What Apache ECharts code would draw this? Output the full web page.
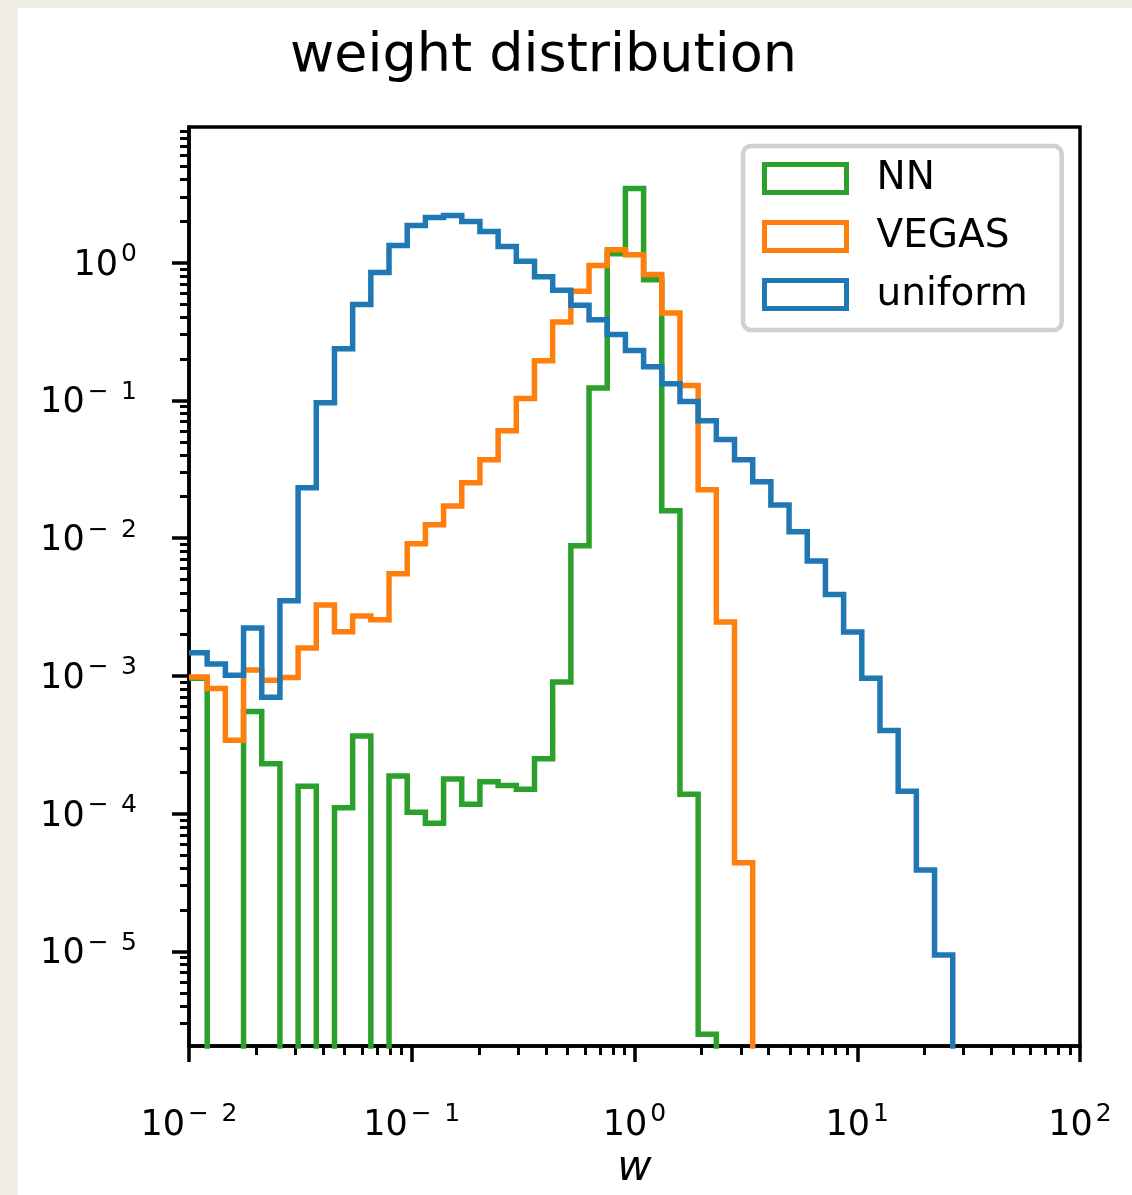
<!DOCTYPE html>
<html lang="en">
<head>
  <meta charset="UTF-8">
  <title>weight distribution</title>
  <style>
    html, body { margin: 0; padding: 0; background: #f1eee7; }
    #main { width: 1132px; height: 1195px; }
  </style>
</head>
<body>
  <div id="main"></div>
  <script src="https://cdn.jsdelivr.net/npm/echarts@6/dist/echarts.min.js"></script>
  <script>
    var myChart = echarts.init(document.getElementById("main"));

    // 49 log-spaced bins between 1e-2 and 1e2, density per bin (0 = empty bin)
    var binLow = 0.01, binHigh = 100, binCount = 49;
    var nnValues = [
      9.6e-4, 0, 0, 5.5e-4, 2.3e-4, 0, 1.58e-4, 0, 1.1e-4, 3.65e-4,
      0, 1.87e-4, 1.02e-4, 8.5e-5, 1.78e-4, 1.17e-4, 1.7e-4, 1.6e-4, 1.5e-4, 2.5e-4,
      9.0e-4, 8.8e-3, 0.123, 1.16, 3.45, 0.75, 0.0158, 1.38e-4, 2.5e-6, 0,
      0, 0, 0, 0, 0, 0, 0, 0, 0, 0,
      0, 0, 0, 0, 0, 0, 0, 0, 0
    ];
    var vegasValues = [
      9.8e-4, 8.1e-4, 3.4e-4, 1.1e-3, 9.3e-4, 9.7e-4, 1.59e-3, 3.27e-3, 2.09e-3, 2.72e-3,
      2.55e-3, 5.5e-3, 9.1e-3, 0.0125, 0.0171, 0.0252, 0.037, 0.060, 0.103, 0.194,
      0.37, 0.62, 0.95, 1.24, 1.14, 0.82, 0.43, 0.128, 0.0224, 2.46e-3,
      4.4e-5, 0, 0, 0, 0, 0, 0, 0, 0, 0,
      0, 0, 0, 0, 0, 0, 0, 0, 0
    ];
    var uniformValues = [
      1.47e-3, 1.22e-3, 1.01e-3, 2.22e-3, 7.0e-4, 3.5e-3, 0.0232, 0.096, 0.237, 0.495,
      0.846, 1.33, 1.86, 2.12, 2.2, 1.99, 1.68, 1.31, 1.02, 0.79,
      0.63, 0.49, 0.385, 0.30, 0.23, 0.175, 0.132, 0.098, 0.071, 0.052,
      0.037, 0.0256, 0.0174, 0.0111, 0.0068, 0.0039, 0.00208, 9.6e-4, 4.0e-4, 1.45e-4,
      3.9e-5, 9.4e-6, 0, 0, 0, 0, 0, 0, 0
    ];

    var xMajorTicks = [0.01, 0.1, 1, 10, 100];
    var yMajorTicks = [1e-5, 1e-4, 1e-3, 1e-2, 1e-1, 1];
    var minorMultipliers = [2, 3, 4, 5, 6, 7, 8, 9];
    var yMin = 2.05e-6, yMax = 9.64;

    var fontName = 'DejaVu Sans';

    function minorTicks(lo, hi) {
      var res = [];
      for (var e = Math.floor(Math.log10(lo)); e <= Math.ceil(Math.log10(hi)); e++) {
        minorMultipliers.forEach(function (m) {
          var v = m * Math.pow(10, e);
          if (v >= lo && v <= hi) res.push(v);
        });
      }
      return res;
    }

    var edges = [];
    for (var i = 0; i <= binCount; i++) {
      edges.push(binLow * Math.pow(binHigh / binLow, i / binCount));
    }

    // step outline like matplotlib histtype='step'; empty bins drop below the axis
    function stepData(values) {
      var floor = 1e-12;
      var res = [];
      for (var i = 0; i < values.length; i++) {
        res.push([edges[i], values[i] > 0 ? values[i] : floor]);
      }
      var last = values[values.length - 1];
      res.push([edges[values.length], last > 0 ? last : floor]);
      return res;
    }

    function powLabel(value) {
      var e = Math.round(Math.log10(value));
      var s = e < 0 ? '\u2212\u2002' + (-e) : '' + e;
      return '{b|10}{s|' + s + '}';
    }

    var richLabel = {
      b: { fontSize: 35, fontFamily: fontName, color: '#000', verticalAlign: 'bottom' },
      s: { fontSize: 25, fontFamily: fontName, color: '#000', verticalAlign: 'bottom', padding: [0, 0, 16, 3] }
    };

    function series(name, color, values) {
      return {
        name: name,
        type: 'line',
        step: 'end',
        showSymbol: false,
        clip: true,
        data: stepData(values),
        lineStyle: { color: color, width: 5.5, cap: 'butt', join: 'miter' },
        itemStyle: { color: color },
        emphasis: { disabled: true }
      };
    }

    var legendItem = function (name, color) {
      return { name: name, itemStyle: { color: '#fff', borderColor: color, borderWidth: 5 } };
    };

    option = {
      backgroundColor: '#f1eee7',
      animation: false,
      graphic: [{
        type: 'rect', left: 18, top: 8, z: -10,
        shape: { width: 1114, height: 1187 },
        style: { fill: '#fff' }
      }],
      title: {
        text: 'weight distribution',
        left: 285,
        top: 25,
        textStyle: { fontFamily: fontName, fontWeight: 'normal', fontSize: 54, color: '#000' }
      },
      legend: {
        orient: 'vertical',
        left: 743,
        top: 146,
        icon: 'rect',
        itemWidth: 82,
        itemHeight: 28,
        itemGap: 19,
        padding: [13, 34, 16, 19],
        backgroundColor: '#fff',
        borderColor: '#d0d0d0',
        borderWidth: 4.5,
        borderRadius: 8,
        selectedMode: false,
        textStyle: { fontFamily: fontName, fontSize: 39, color: '#000', padding: [0, 0, 0, 25] },
        data: [legendItem('NN', '#2ca02c'), legendItem('VEGAS', '#ff7f0e'), legendItem('uniform', '#1f77b4')]
      },
      grid: {
        left: 189, top: 127, right: 52, bottom: 148,
        show: true, backgroundColor: '#fff', borderColor: '#000', borderWidth: 3.5,
        containLabel: false
      },
      xAxis: [{
        type: 'log', logBase: 10, min: binLow, max: binHigh,
        name: 'w', nameLocation: 'middle', nameGap: 100,
        nameTextStyle: { fontFamily: fontName, fontStyle: 'italic', fontSize: 42, color: '#000' },
        axisLine: { lineStyle: { color: '#000', width: 3.5 } },
        axisTick: { customValues: xMajorTicks, length: 16, lineStyle: { color: '#000', width: 3.5 } },
        axisLabel: { customValues: xMajorTicks, margin: 56, formatter: powLabel, rich: richLabel },
        splitLine: { show: false }
      }, {
        type: 'log', logBase: 10, min: binLow, max: binHigh, position: 'bottom',
        axisLine: { show: false },
        axisTick: { customValues: minorTicks(binLow, binHigh), length: 9, lineStyle: { color: '#000', width: 3 } },
        axisLabel: { show: false },
        splitLine: { show: false }
      }],
      yAxis: [{
        type: 'log', logBase: 10, min: yMin, max: yMax,
        axisLine: { lineStyle: { color: '#000', width: 3.5 } },
        axisTick: { customValues: yMajorTicks, length: 17, lineStyle: { color: '#000', width: 3.5 } },
        axisLabel: { customValues: yMajorTicks, margin: 52, formatter: powLabel, rich: richLabel },
        splitLine: { show: false }
      }, {
        type: 'log', logBase: 10, min: yMin, max: yMax, position: 'left',
        axisLine: { show: false },
        axisTick: { customValues: minorTicks(yMin, yMax), length: 9, lineStyle: { color: '#000', width: 3 } },
        axisLabel: { show: false },
        splitLine: { show: false }
      }],
      series: [
        series('NN', '#2ca02c', nnValues),
        series('VEGAS', '#ff7f0e', vegasValues),
        series('uniform', '#1f77b4', uniformValues)
      ]
    };

    myChart.setOption(option);
  </script>
</body>
</html>
